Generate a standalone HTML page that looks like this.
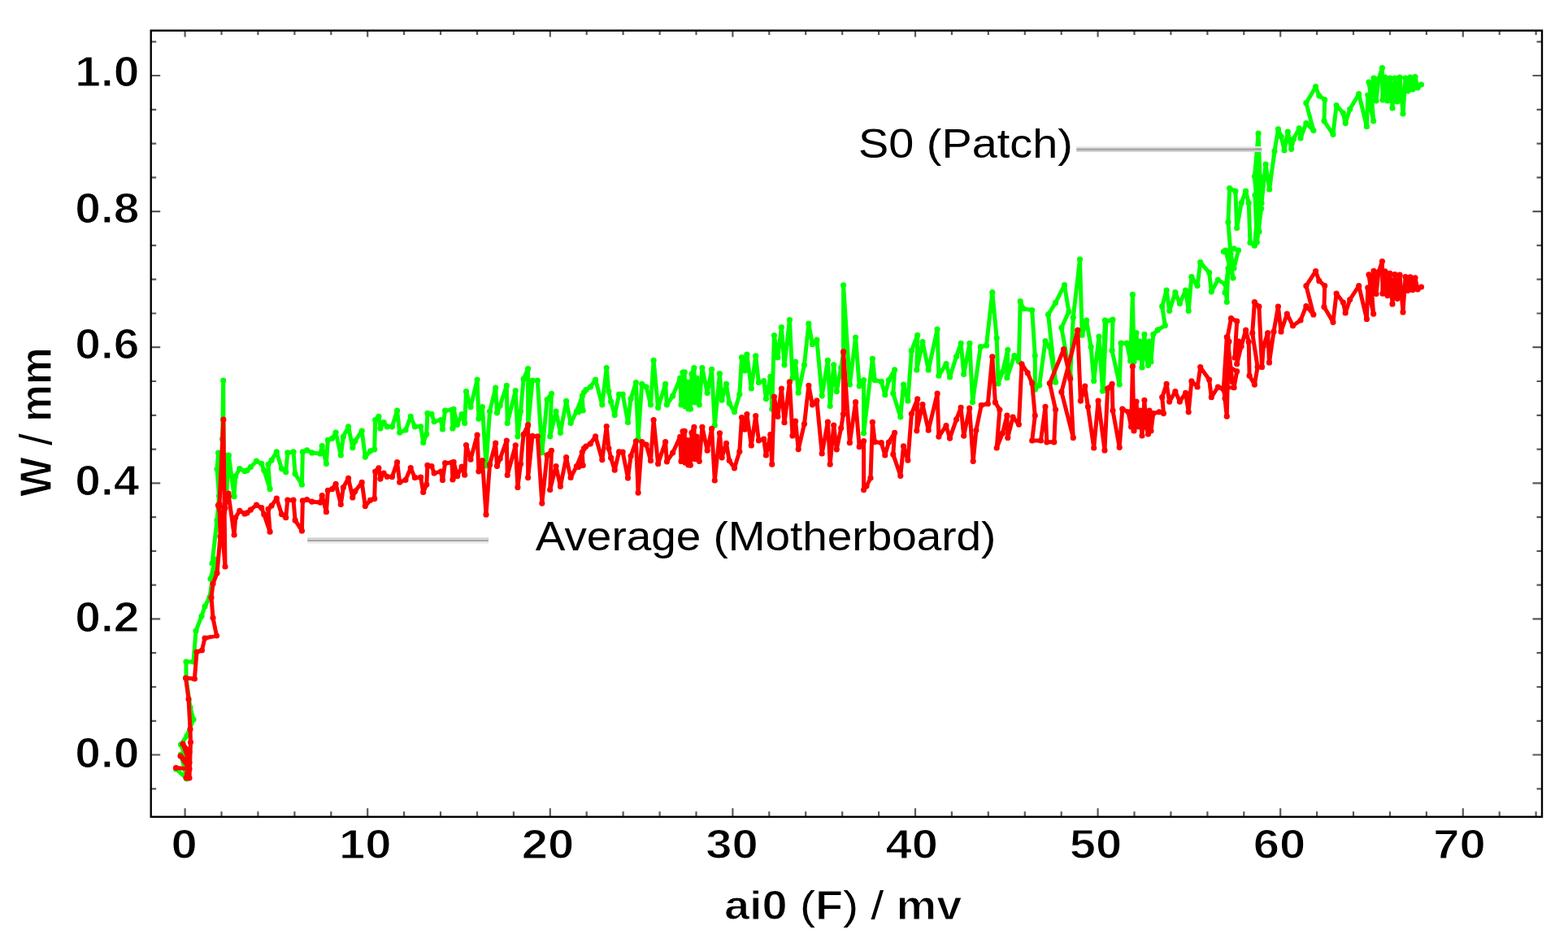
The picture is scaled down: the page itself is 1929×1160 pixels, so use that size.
<!DOCTYPE html><html><head><meta charset="utf-8"><style>html,body{margin:0;padding:0;background:#fff;}svg{display:block}</style></head><body>
<svg width="1929" height="1160" viewBox="0 0 1929 1160">
<rect width="1929" height="1160" fill="#fff"/>
<path d="M227.6,1004.8v-10.5M227.6,37.6v8M272.5,1004.8v-6.5M272.5,37.6v5.5M317.4,1004.8v-6.5M317.4,37.6v5.5M362.4,1004.8v-6.5M362.4,37.6v5.5M407.3,1004.8v-6.5M407.3,37.6v5.5M452.2,1004.8v-10.5M452.2,37.6v8M497.1,1004.8v-6.5M497.1,37.6v5.5M542.0,1004.8v-6.5M542.0,37.6v5.5M587.0,1004.8v-6.5M587.0,37.6v5.5M631.9,1004.8v-6.5M631.9,37.6v5.5M676.8,1004.8v-10.5M676.8,37.6v8M721.7,1004.8v-6.5M721.7,37.6v5.5M766.6,1004.8v-6.5M766.6,37.6v5.5M811.6,1004.8v-6.5M811.6,37.6v5.5M856.5,1004.8v-6.5M856.5,37.6v5.5M901.4,1004.8v-10.5M901.4,37.6v8M946.3,1004.8v-6.5M946.3,37.6v5.5M991.2,1004.8v-6.5M991.2,37.6v5.5M1036.2,1004.8v-6.5M1036.2,37.6v5.5M1081.1,1004.8v-6.5M1081.1,37.6v5.5M1126.0,1004.8v-10.5M1126.0,37.6v8M1170.9,1004.8v-6.5M1170.9,37.6v5.5M1215.8,1004.8v-6.5M1215.8,37.6v5.5M1260.8,1004.8v-6.5M1260.8,37.6v5.5M1305.7,1004.8v-6.5M1305.7,37.6v5.5M1350.6,1004.8v-10.5M1350.6,37.6v8M1395.5,1004.8v-6.5M1395.5,37.6v5.5M1440.4,1004.8v-6.5M1440.4,37.6v5.5M1485.4,1004.8v-6.5M1485.4,37.6v5.5M1530.3,1004.8v-6.5M1530.3,37.6v5.5M1575.2,1004.8v-10.5M1575.2,37.6v8M1620.1,1004.8v-6.5M1620.1,37.6v5.5M1665.0,1004.8v-6.5M1665.0,37.6v5.5M1710.0,1004.8v-6.5M1710.0,37.6v5.5M1754.9,1004.8v-6.5M1754.9,37.6v5.5M1799.8,1004.8v-10.5M1799.8,37.6v8M1844.7,1004.8v-6.5M1844.7,37.6v5.5M1889.6,1004.8v-6.5M1889.6,37.6v5.5M185.7,970.3h6.5M1897.0,970.3h-6.5M185.7,928.5h11.5M1897.0,928.5h-11.5M185.7,886.8h6.5M1897.0,886.8h-6.5M185.7,845.0h6.5M1897.0,845.0h-6.5M185.7,803.2h6.5M1897.0,803.2h-6.5M185.7,761.4h11.5M1897.0,761.4h-11.5M185.7,719.7h6.5M1897.0,719.7h-6.5M185.7,677.9h6.5M1897.0,677.9h-6.5M185.7,636.1h6.5M1897.0,636.1h-6.5M185.7,594.3h11.5M1897.0,594.3h-11.5M185.7,552.6h6.5M1897.0,552.6h-6.5M185.7,510.8h6.5M1897.0,510.8h-6.5M185.7,469.0h6.5M1897.0,469.0h-6.5M185.7,427.2h11.5M1897.0,427.2h-11.5M185.7,385.5h6.5M1897.0,385.5h-6.5M185.7,343.7h6.5M1897.0,343.7h-6.5M185.7,301.9h6.5M1897.0,301.9h-6.5M185.7,260.1h11.5M1897.0,260.1h-11.5M185.7,218.4h6.5M1897.0,218.4h-6.5M185.7,176.6h6.5M1897.0,176.6h-6.5M185.7,134.8h6.5M1897.0,134.8h-6.5M185.7,93.0h11.5M1897.0,93.0h-11.5M185.7,51.3h6.5M1897.0,51.3h-6.5" stroke="#5a5a5a" stroke-width="2.2" fill="none"/>
<rect x="185.7" y="37.6" width="1711.3" height="967.1999999999999" fill="none" stroke="#000" stroke-width="2.4"/>
<path d="M216.5,946.0 230.0,958.0 222.5,928.0 232.0,940.0 222.5,916.0 230.0,905.0 238.0,885.0 234.0,870.0 229.0,834.0 229.0,814.0 238.0,814.0 241.0,776.0 248.0,758.0 252.0,746.0 258.0,734.5 263.0,700.0 259.0,712.0 265.0,688.0 261.0,693.0 267.0,640.0 269.5,610.0 267.0,577.0 268.6,557.0 273.2,575.0 273.6,540.0 274.7,468.0 275.4,600.0 277.5,560.0 278.5,612.0 281.4,560.0 288.1,610.7 289.7,585.9 294.8,576.6 301.0,579.7 304.1,578.6 308.3,574.5 315.5,567.2 321.7,570.3 324.8,578.6 332.1,601.4 330.0,571.4 334.1,566.2 340.3,555.9 346.5,576.6 351.7,580.7 353.8,556.9 361.0,555.9 363.1,582.8 371.4,596.2 372.4,555.9 377.6,553.8 383.8,556.9 394.1,557.9 396.2,548.6 401.4,570.3 403.4,541.4 408.6,539.3 413.1,532.1 419.3,560.0 422.4,537.2 428.6,524.8 433.8,550.7 436.9,542.4 445.2,530.0 449.3,562.1 455.5,554.8 460.7,552.8 461.7,516.6 465.9,512.4 467.9,526.9 472.1,519.7 476.2,524.8 482.4,524.8 488.6,505.2 491.7,532.1 499.0,529.0 505.2,512.4 510.3,524.8 517.6,524.8 520.7,544.5 524.8,534.1 525.9,508.3 531.0,509.3 534.1,518.6 542.4,516.6 544.5,527.9 547.6,505.2 555.9,504.1 556.9,526.9 557.2,526.0 558.1,503.3 562.7,522.3 568.1,509.7 571.7,520.5 573.5,481.6 579.0,500.6 587.1,467.1 588.9,515.1 593.4,500.6 598.0,573.0 602.5,506.0 609.7,477.1 611.5,507.8 615.2,498.8 623.3,474.4 624.2,520.5 634.2,480.7 636.9,536.8 640.5,506.0 644.1,466.2 649.6,453.5 649.6,524.1 655.0,468.0 661.3,468.0 666.8,556.7 673.1,491.5 678.5,484.3 676.7,536.8 684.0,506.0 689.4,532.3 696.6,493.4 702.1,520.5 709.3,506.0 718.4,482.5 711.8,506.8 717.2,505.0 716.3,486.9 720.9,479.7 726.3,476.0 732.6,467.0 740.8,497.8 746.2,452.5 748.9,481.5 751.6,494.1 756.2,510.4 761.6,485.1 766.1,485.1 772.5,519.5 776.1,490.5 782.4,470.6 785.1,539.4 789.7,472.4 795.1,476.0 800.5,497.8 804.1,443.4 809.6,501.4 818.6,472.4 820.4,497.8 827.7,486.9 836.7,465.2 838.0,498.0 840.0,458.0 842.2,457.9 843.0,500.0 846.0,470.0 847.0,503.0 849.4,503.2 851.0,460.0 853.9,452.5 855.0,495.0 857.0,465.0 860.3,497.8 863.9,452.5 870.2,483.3 875.6,454.3 879.3,523.1 885.4,459.7 888.1,492.2 893.5,472.3 897.2,495.9 903.5,506.7 909.8,485.0 912.5,439.7 916.2,456.0 918.9,436.1 924.3,477.8 929.7,437.9 933.4,470.5 939.7,468.7 942.4,490.4 947.8,463.3 949.7,503.1 952.4,412.6 956.9,439.7 961.4,402.6 965.0,448.8 971.4,393.6 975.0,465.1 978.6,445.2 982.2,483.2 989.5,448.8 994.9,398.1 999.4,423.4 1004.9,418.0 1011.2,486.8 1018.4,443.4 1021.2,499.5 1025.7,448.8 1029.3,481.4 1034.7,452.4 1037.5,434.3 1037.6,350.8 1045.4,473.0 1052.6,415.1 1057.2,474.8 1062.6,467.6 1062.6,532.8 1073.4,441.3 1076.2,467.6 1084.3,469.4 1088.8,485.7 1093.4,467.6 1100.6,454.9 1098.8,483.9 1107.8,512.8 1111.5,473.0 1116.9,492.9 1121.4,431.4 1128.7,412.4 1127.8,454.9 1135.0,420.5 1142.2,454.9 1153.1,405.1 1154.9,462.2 1164.0,447.7 1168.5,464.0 1176.6,438.6 1182.1,422.3 1185.7,460.3 1192.9,422.3 1196.5,494.7 1206.3,426.7 1213.5,424.9 1220.8,359.7 1226.2,415.9 1228.0,472.0 1233.4,457.5 1239.8,430.3 1238.9,464.7 1247.9,437.6 1253.4,444.8 1255.2,370.6 1258.8,379.7 1269.7,381.5 1273.3,437.6 1273.3,479.2 1278.7,473.8 1286.0,419.5 1291.4,426.7 1298.6,470.2 1289.6,386.9 1298.6,372.4 1309.5,350.7 1314.9,383.3 1305.9,403.2 1316.7,462.9 1320.3,390.5 1328.5,319.0 1331.2,412.2 1336.6,394.1 1342.1,426.7 1345.7,468.4 1352.0,414.0 1356.5,481.0 1359.3,394.1 1357.2,480.1 1360.9,395.0 1369.0,393.2 1368.1,431.2 1377.2,472.8 1379.0,422.2 1386.2,422.2 1390.7,443.9 1393.4,362.4 1395.0,445.0 1398.0,409.5 1400.0,440.0 1402.5,420.0 1405.0,452.0 1407.9,411.3 1410.0,440.0 1412.5,449.3 1414.0,420.0 1416.0,445.0 1418.8,411.3 1424.2,405.9 1433.3,400.4 1429.7,376.9 1435.1,357.0 1438.7,382.3 1445.9,359.7 1451.4,373.3 1458.6,357.0 1462.2,382.3 1465.9,340.7 1473.1,351.5 1476.7,322.6 1487.6,335.3 1490.3,358.8 1498.4,344.3 1507.5,349.7 1509.3,371.5 1511.0,330.0 1507.0,360.0 1513.0,318.0 1517.0,342.0 1507.5,308.1 1505.4,309.5 1518.1,305.8 1523.5,308.0 1518.0,330.0 1514.0,312.0 1510.9,273.3 1512.7,231.6 1519.9,235.2 1521.7,280.5 1527.1,249.7 1532.6,235.2 1536.2,249.7 1538.0,298.6 1543.4,302.2 1547.1,262.4 1543.4,217.1 1548.1,164.2 1549.9,216.7 1551.7,256.5 1546.3,298.1 1544.0,240.0 1549.0,285.0 1547.0,210.0 1552.0,250.0 1557.1,202.2 1561.7,233.0 1568.0,185.9 1572.5,158.8 1576.2,168.0 1580.0,185.0 1584.3,162.0 1588.6,183.3 1591.4,170.9 1598.3,157.8 1600.0,170.0 1606.9,151.6 1615.9,160.5 1606.9,126.7 1618.6,106.7 1622.8,117.8 1629.7,122.6 1629.0,148.8 1640.0,165.3 1644.1,129.5 1652.4,139.1 1655.2,151.6 1660.7,134.3 1671.7,115.7 1681.4,155.7 1682.8,117.1 1689.7,148.8 1686.2,104.0 1684.0,101.0 1687.0,123.0 1690.0,96.0 1693.0,124.0 1696.0,97.0 1700.4,83.5 1701.0,123.0 1704.0,95.0 1707.0,124.0 1710.0,96.0 1713.0,133.0 1716.0,96.0 1719.0,125.0 1722.0,95.0 1726.0,140.0 1729.0,96.0 1732.0,112.0 1735.0,95.0 1738.0,110.0 1741.0,94.5 1744.0,108.0 1748.5,104.0" stroke="#00ff00" stroke-width="5.0" fill="none" stroke-linejoin="round" stroke-linecap="round"/>
<path d="M216.5,946.0h0M230.0,958.0h0M222.5,928.0h0M232.0,940.0h0M222.5,916.0h0M230.0,905.0h0M238.0,885.0h0M234.0,870.0h0M229.0,834.0h0M229.0,814.0h0M238.0,814.0h0M241.0,776.0h0M248.0,758.0h0M252.0,746.0h0M258.0,734.5h0M263.0,700.0h0M259.0,712.0h0M265.0,688.0h0M261.0,693.0h0M267.0,640.0h0M269.5,610.0h0M267.0,577.0h0M268.6,557.0h0M273.2,575.0h0M273.6,540.0h0M274.7,468.0h0M275.4,600.0h0M277.5,560.0h0M278.5,612.0h0M281.4,560.0h0M288.1,610.7h0M289.7,585.9h0M294.8,576.6h0M301.0,579.7h0M304.1,578.6h0M308.3,574.5h0M315.5,567.2h0M321.7,570.3h0M324.8,578.6h0M332.1,601.4h0M330.0,571.4h0M334.1,566.2h0M340.3,555.9h0M346.5,576.6h0M351.7,580.7h0M353.8,556.9h0M361.0,555.9h0M363.1,582.8h0M371.4,596.2h0M372.4,555.9h0M377.6,553.8h0M383.8,556.9h0M394.1,557.9h0M396.2,548.6h0M401.4,570.3h0M403.4,541.4h0M408.6,539.3h0M413.1,532.1h0M419.3,560.0h0M422.4,537.2h0M428.6,524.8h0M433.8,550.7h0M436.9,542.4h0M445.2,530.0h0M449.3,562.1h0M455.5,554.8h0M460.7,552.8h0M461.7,516.6h0M465.9,512.4h0M467.9,526.9h0M472.1,519.7h0M476.2,524.8h0M482.4,524.8h0M488.6,505.2h0M491.7,532.1h0M499.0,529.0h0M505.2,512.4h0M510.3,524.8h0M517.6,524.8h0M520.7,544.5h0M524.8,534.1h0M525.9,508.3h0M531.0,509.3h0M534.1,518.6h0M542.4,516.6h0M544.5,527.9h0M547.6,505.2h0M555.9,504.1h0M556.9,526.9h0M557.2,526.0h0M558.1,503.3h0M562.7,522.3h0M568.1,509.7h0M571.7,520.5h0M573.5,481.6h0M579.0,500.6h0M587.1,467.1h0M588.9,515.1h0M593.4,500.6h0M598.0,573.0h0M602.5,506.0h0M609.7,477.1h0M611.5,507.8h0M615.2,498.8h0M623.3,474.4h0M624.2,520.5h0M634.2,480.7h0M636.9,536.8h0M640.5,506.0h0M644.1,466.2h0M649.6,453.5h0M649.6,524.1h0M655.0,468.0h0M661.3,468.0h0M666.8,556.7h0M673.1,491.5h0M678.5,484.3h0M676.7,536.8h0M684.0,506.0h0M689.4,532.3h0M696.6,493.4h0M702.1,520.5h0M709.3,506.0h0M718.4,482.5h0M711.8,506.8h0M717.2,505.0h0M716.3,486.9h0M720.9,479.7h0M726.3,476.0h0M732.6,467.0h0M740.8,497.8h0M746.2,452.5h0M748.9,481.5h0M751.6,494.1h0M756.2,510.4h0M761.6,485.1h0M766.1,485.1h0M772.5,519.5h0M776.1,490.5h0M782.4,470.6h0M785.1,539.4h0M789.7,472.4h0M795.1,476.0h0M800.5,497.8h0M804.1,443.4h0M809.6,501.4h0M818.6,472.4h0M820.4,497.8h0M827.7,486.9h0M836.7,465.2h0M838.0,498.0h0M840.0,458.0h0M842.2,457.9h0M843.0,500.0h0M846.0,470.0h0M847.0,503.0h0M849.4,503.2h0M851.0,460.0h0M853.9,452.5h0M855.0,495.0h0M857.0,465.0h0M860.3,497.8h0M863.9,452.5h0M870.2,483.3h0M875.6,454.3h0M879.3,523.1h0M885.4,459.7h0M888.1,492.2h0M893.5,472.3h0M897.2,495.9h0M903.5,506.7h0M909.8,485.0h0M912.5,439.7h0M916.2,456.0h0M918.9,436.1h0M924.3,477.8h0M929.7,437.9h0M933.4,470.5h0M939.7,468.7h0M942.4,490.4h0M947.8,463.3h0M949.7,503.1h0M952.4,412.6h0M956.9,439.7h0M961.4,402.6h0M965.0,448.8h0M971.4,393.6h0M975.0,465.1h0M978.6,445.2h0M982.2,483.2h0M989.5,448.8h0M994.9,398.1h0M999.4,423.4h0M1004.9,418.0h0M1011.2,486.8h0M1018.4,443.4h0M1021.2,499.5h0M1025.7,448.8h0M1029.3,481.4h0M1034.7,452.4h0M1037.5,434.3h0M1037.6,350.8h0M1045.4,473.0h0M1052.6,415.1h0M1057.2,474.8h0M1062.6,467.6h0M1062.6,532.8h0M1073.4,441.3h0M1076.2,467.6h0M1084.3,469.4h0M1088.8,485.7h0M1093.4,467.6h0M1100.6,454.9h0M1098.8,483.9h0M1107.8,512.8h0M1111.5,473.0h0M1116.9,492.9h0M1121.4,431.4h0M1128.7,412.4h0M1127.8,454.9h0M1135.0,420.5h0M1142.2,454.9h0M1153.1,405.1h0M1154.9,462.2h0M1164.0,447.7h0M1168.5,464.0h0M1176.6,438.6h0M1182.1,422.3h0M1185.7,460.3h0M1192.9,422.3h0M1196.5,494.7h0M1206.3,426.7h0M1213.5,424.9h0M1220.8,359.7h0M1226.2,415.9h0M1228.0,472.0h0M1233.4,457.5h0M1239.8,430.3h0M1238.9,464.7h0M1247.9,437.6h0M1253.4,444.8h0M1255.2,370.6h0M1258.8,379.7h0M1269.7,381.5h0M1273.3,437.6h0M1273.3,479.2h0M1278.7,473.8h0M1286.0,419.5h0M1291.4,426.7h0M1298.6,470.2h0M1289.6,386.9h0M1298.6,372.4h0M1309.5,350.7h0M1314.9,383.3h0M1305.9,403.2h0M1316.7,462.9h0M1320.3,390.5h0M1328.5,319.0h0M1331.2,412.2h0M1336.6,394.1h0M1342.1,426.7h0M1345.7,468.4h0M1352.0,414.0h0M1356.5,481.0h0M1359.3,394.1h0M1357.2,480.1h0M1360.9,395.0h0M1369.0,393.2h0M1368.1,431.2h0M1377.2,472.8h0M1379.0,422.2h0M1386.2,422.2h0M1390.7,443.9h0M1393.4,362.4h0M1395.0,445.0h0M1398.0,409.5h0M1400.0,440.0h0M1402.5,420.0h0M1405.0,452.0h0M1407.9,411.3h0M1410.0,440.0h0M1412.5,449.3h0M1414.0,420.0h0M1416.0,445.0h0M1418.8,411.3h0M1424.2,405.9h0M1433.3,400.4h0M1429.7,376.9h0M1435.1,357.0h0M1438.7,382.3h0M1445.9,359.7h0M1451.4,373.3h0M1458.6,357.0h0M1462.2,382.3h0M1465.9,340.7h0M1473.1,351.5h0M1476.7,322.6h0M1487.6,335.3h0M1490.3,358.8h0M1498.4,344.3h0M1507.5,349.7h0M1509.3,371.5h0M1511.0,330.0h0M1507.0,360.0h0M1513.0,318.0h0M1517.0,342.0h0M1507.5,308.1h0M1505.4,309.5h0M1518.1,305.8h0M1523.5,308.0h0M1518.0,330.0h0M1514.0,312.0h0M1510.9,273.3h0M1512.7,231.6h0M1519.9,235.2h0M1521.7,280.5h0M1527.1,249.7h0M1532.6,235.2h0M1536.2,249.7h0M1538.0,298.6h0M1543.4,302.2h0M1547.1,262.4h0M1543.4,217.1h0M1548.1,164.2h0M1549.9,216.7h0M1551.7,256.5h0M1546.3,298.1h0M1544.0,240.0h0M1549.0,285.0h0M1547.0,210.0h0M1552.0,250.0h0M1557.1,202.2h0M1561.7,233.0h0M1568.0,185.9h0M1572.5,158.8h0M1576.2,168.0h0M1580.0,185.0h0M1584.3,162.0h0M1588.6,183.3h0M1591.4,170.9h0M1598.3,157.8h0M1600.0,170.0h0M1606.9,151.6h0M1615.9,160.5h0M1606.9,126.7h0M1618.6,106.7h0M1622.8,117.8h0M1629.7,122.6h0M1629.0,148.8h0M1640.0,165.3h0M1644.1,129.5h0M1652.4,139.1h0M1655.2,151.6h0M1660.7,134.3h0M1671.7,115.7h0M1681.4,155.7h0M1682.8,117.1h0M1689.7,148.8h0M1686.2,104.0h0M1684.0,101.0h0M1687.0,123.0h0M1690.0,96.0h0M1693.0,124.0h0M1696.0,97.0h0M1700.4,83.5h0M1701.0,123.0h0M1704.0,95.0h0M1707.0,124.0h0M1710.0,96.0h0M1713.0,133.0h0M1716.0,96.0h0M1719.0,125.0h0M1722.0,95.0h0M1726.0,140.0h0M1729.0,96.0h0M1732.0,112.0h0M1735.0,95.0h0M1738.0,110.0h0M1741.0,94.5h0M1744.0,108.0h0M1748.5,104.0h0" stroke="#00ff00" stroke-width="7.2" fill="none" stroke-linecap="round"/>
<path d="M216.5,944.5 233.0,946.0 222.0,930.0 233.0,938.0 225.0,915.0 233.0,925.0 229.0,957.0 233.0,957.0 234.5,913.0 234.0,897.0 232.0,860.0 228.5,834.0 239.4,835.0 242.0,802.0 248.4,800.0 252.0,785.0 266.5,782.0 262.0,760.0 260.0,735.0 262.0,718.0 267.0,705.0 271.0,660.0 270.0,620.0 274.8,516.0 277.0,697.0 274.0,660.0 277.0,625.0 268.4,621.6 272.0,640.0 281.0,607.0 281.4,610.5 288.1,658.0 289.7,636.8 294.8,628.4 301.0,631.9 304.1,630.8 308.3,627.2 315.5,621.2 321.7,624.7 324.8,632.7 332.1,654.2 330.0,626.3 334.1,622.1 340.3,613.1 346.5,632.6 351.7,636.7 353.8,615.0 361.0,615.2 363.1,639.9 371.4,652.9 372.4,615.9 377.6,614.5 383.8,617.2 394.1,618.1 396.2,609.7 401.4,629.7 403.4,603.3 408.6,601.7 413.1,595.3 419.3,620.5 422.4,599.5 428.6,588.3 433.8,611.9 436.9,604.3 445.2,593.4 449.3,622.6 455.5,615.3 460.7,613.4 461.7,580.0 465.9,575.8 467.9,589.1 472.1,582.2 476.2,586.3 482.4,586.6 488.6,568.6 491.7,593.2 499.0,590.3 505.2,575.6 510.3,587.4 517.6,587.2 520.7,605.5 524.8,596.1 525.9,572.4 531.0,573.5 534.1,581.9 542.4,580.1 544.5,590.4 547.6,569.7 555.9,569.0 556.9,590.0 557.2,589.2 558.1,568.3 562.7,585.6 568.1,574.1 571.7,584.2 573.5,547.6 579.0,565.2 587.1,535.2 588.9,579.8 593.4,566.5 598.0,632.9 602.5,571.7 609.7,545.0 611.5,573.3 615.2,564.2 623.3,542.1 624.2,584.5 634.2,547.9 636.9,599.4 640.5,570.8 644.1,534.3 649.6,522.7 649.6,587.6 655.0,536.4 661.3,536.8 666.8,619.1 673.1,559.9 678.5,554.3 676.7,602.5 684.0,573.6 689.4,598.3 696.6,562.7 702.1,587.5 709.3,573.6 718.4,551.6 711.8,574.3 717.2,572.5 716.3,556.1 720.9,549.1 726.3,545.8 732.6,536.8 740.8,565.6 746.2,524.6 748.9,551.6 751.6,563.2 756.2,578.2 761.6,555.9 766.1,556.2 772.5,587.9 776.1,561.0 782.4,542.8 785.1,606.1 789.7,543.7 795.1,547.2 800.5,566.7 804.1,516.6 809.6,570.4 818.6,543.7 820.4,567.8 827.7,556.8 836.7,537.3 838.0,567.4 840.0,530.5 842.2,530.4 843.0,569.1 846.0,541.7 847.0,572.0 849.4,572.1 851.0,532.4 853.9,525.4 855.0,564.7 857.0,537.1 860.3,567.3 863.9,525.3 870.2,554.2 875.6,527.4 879.3,591.0 885.4,532.9 888.1,562.8 893.5,545.3 897.2,566.5 903.5,575.8 909.8,555.5 912.5,513.5 916.2,528.2 918.9,509.5 924.3,547.9 929.7,511.7 933.4,541.8 939.7,540.2 942.4,560.0 947.8,534.7 949.7,571.2 952.4,488.0 956.9,512.3 961.4,478.0 965.0,519.7 971.4,469.9 975.0,535.9 978.6,518.2 982.2,552.6 989.5,521.6 994.9,474.3 999.4,497.8 1004.9,492.9 1011.2,558.0 1018.4,519.0 1021.2,571.2 1025.7,523.1 1029.3,552.8 1034.7,526.6 1037.5,509.4 1037.6,432.6 1045.4,544.7 1052.6,494.7 1057.2,549.7 1062.6,542.6 1062.6,602.6 1066.0,598.0 1071.0,588.0 1073.4,519.3 1076.2,543.6 1084.3,544.7 1088.8,560.0 1093.4,544.0 1100.6,532.4 1098.8,558.9 1107.8,585.3 1111.5,548.8 1116.9,566.2 1121.4,509.1 1128.7,490.8 1127.8,529.8 1135.0,497.5 1142.2,529.2 1153.1,484.2 1154.9,537.1 1164.0,523.7 1168.5,539.1 1176.6,515.9 1182.1,501.3 1185.7,536.1 1192.7,502.2 1197.2,567.3 1200.9,529.3 1207.2,498.5 1215.3,496.7 1220.8,438.8 1224.4,494.9 1229.8,504.0 1226.2,551.0 1233.4,532.9 1238.9,511.2 1239.8,538.4 1246.1,513.0 1253.4,522.1 1257.0,447.8 1264.2,458.7 1269.7,471.4 1273.3,511.2 1269.7,542.0 1280.5,542.0 1286.0,500.3 1287.8,543.8 1296.8,543.8 1298.6,504.0 1291.4,471.4 1308.6,429.7 1316.7,465.9 1320.3,538.4 1305.9,482.2 1325.8,406.2 1329.4,493.1 1334.8,475.0 1338.4,500.3 1345.7,551.0 1351.1,493.1 1359.0,553.9 1362.7,477.8 1368.1,472.4 1369.0,505.0 1377.2,550.3 1380.8,503.2 1388.0,506.8 1391.6,524.9 1393.4,450.7 1395.0,530.0 1398.0,494.0 1400.0,525.0 1402.5,505.0 1405.0,536.0 1407.9,492.3 1410.0,525.0 1412.5,534.0 1414.0,505.0 1416.0,530.0 1418.8,508.6 1426.0,506.8 1431.5,508.6 1429.7,488.7 1435.1,472.4 1438.7,494.1 1445.9,481.5 1451.4,494.1 1458.6,483.3 1462.2,506.8 1465.9,468.8 1473.1,476.0 1476.7,451.6 1487.6,467.0 1490.3,488.7 1498.4,476.0 1505.7,479.7 1509.3,512.2 1511.0,440.0 1507.0,490.0 1512.0,420.0 1509.3,414.5 1505.4,476.7 1518.1,476.7 1521.7,456.8 1509.0,449.5 1516.0,470.0 1510.0,415.2 1514.5,391.6 1521.7,395.2 1519.0,440.0 1524.0,420.0 1521.7,447.7 1527.1,426.0 1532.6,406.1 1536.2,420.6 1537.1,462.2 1543.4,473.1 1547.1,451.4 1540.7,409.7 1543.4,371.7 1548.9,377.1 1552.5,451.4 1554.3,426.0 1559.7,409.7 1561.5,445.9 1567.0,407.9 1572.4,377.1 1576.0,407.9 1583.3,386.2 1590.5,400.7 1600.0,394.0 1606.9,376.6 1615.9,386.9 1606.9,351.7 1618.6,333.5 1622.8,345.4 1629.7,351.5 1629.0,377.6 1640.0,396.3 1644.1,361.1 1652.4,372.0 1655.2,385.0 1660.7,368.5 1671.7,351.7 1681.4,392.4 1682.8,353.9 1689.7,386.1 1686.2,341.0 1684.0,337.9 1687.0,360.1 1690.0,333.3 1693.0,361.5 1696.0,334.7 1700.4,321.6 1701.0,361.2 1704.0,333.9 1707.0,363.6 1710.0,336.3 1713.0,373.9 1716.0,337.6 1719.0,367.3 1722.0,338.0 1726.0,383.9 1729.0,340.6 1732.0,357.3 1735.0,340.9 1738.0,356.6 1741.0,341.8 1744.0,356.0 1748.5,353.0" stroke="#ff0000" stroke-width="5.0" fill="none" stroke-linejoin="round" stroke-linecap="round"/>
<path d="M216.5,944.5h0M233.0,946.0h0M222.0,930.0h0M233.0,938.0h0M225.0,915.0h0M233.0,925.0h0M229.0,957.0h0M233.0,957.0h0M234.5,913.0h0M234.0,897.0h0M232.0,860.0h0M228.5,834.0h0M239.4,835.0h0M242.0,802.0h0M248.4,800.0h0M252.0,785.0h0M266.5,782.0h0M262.0,760.0h0M260.0,735.0h0M262.0,718.0h0M267.0,705.0h0M271.0,660.0h0M270.0,620.0h0M274.8,516.0h0M277.0,697.0h0M274.0,660.0h0M277.0,625.0h0M268.4,621.6h0M272.0,640.0h0M281.0,607.0h0M281.4,610.5h0M288.1,658.0h0M289.7,636.8h0M294.8,628.4h0M301.0,631.9h0M304.1,630.8h0M308.3,627.2h0M315.5,621.2h0M321.7,624.7h0M324.8,632.7h0M332.1,654.2h0M330.0,626.3h0M334.1,622.1h0M340.3,613.1h0M346.5,632.6h0M351.7,636.7h0M353.8,615.0h0M361.0,615.2h0M363.1,639.9h0M371.4,652.9h0M372.4,615.9h0M377.6,614.5h0M383.8,617.2h0M394.1,618.1h0M396.2,609.7h0M401.4,629.7h0M403.4,603.3h0M408.6,601.7h0M413.1,595.3h0M419.3,620.5h0M422.4,599.5h0M428.6,588.3h0M433.8,611.9h0M436.9,604.3h0M445.2,593.4h0M449.3,622.6h0M455.5,615.3h0M460.7,613.4h0M461.7,580.0h0M465.9,575.8h0M467.9,589.1h0M472.1,582.2h0M476.2,586.3h0M482.4,586.6h0M488.6,568.6h0M491.7,593.2h0M499.0,590.3h0M505.2,575.6h0M510.3,587.4h0M517.6,587.2h0M520.7,605.5h0M524.8,596.1h0M525.9,572.4h0M531.0,573.5h0M534.1,581.9h0M542.4,580.1h0M544.5,590.4h0M547.6,569.7h0M555.9,569.0h0M556.9,590.0h0M557.2,589.2h0M558.1,568.3h0M562.7,585.6h0M568.1,574.1h0M571.7,584.2h0M573.5,547.6h0M579.0,565.2h0M587.1,535.2h0M588.9,579.8h0M593.4,566.5h0M598.0,632.9h0M602.5,571.7h0M609.7,545.0h0M611.5,573.3h0M615.2,564.2h0M623.3,542.1h0M624.2,584.5h0M634.2,547.9h0M636.9,599.4h0M640.5,570.8h0M644.1,534.3h0M649.6,522.7h0M649.6,587.6h0M655.0,536.4h0M661.3,536.8h0M666.8,619.1h0M673.1,559.9h0M678.5,554.3h0M676.7,602.5h0M684.0,573.6h0M689.4,598.3h0M696.6,562.7h0M702.1,587.5h0M709.3,573.6h0M718.4,551.6h0M711.8,574.3h0M717.2,572.5h0M716.3,556.1h0M720.9,549.1h0M726.3,545.8h0M732.6,536.8h0M740.8,565.6h0M746.2,524.6h0M748.9,551.6h0M751.6,563.2h0M756.2,578.2h0M761.6,555.9h0M766.1,556.2h0M772.5,587.9h0M776.1,561.0h0M782.4,542.8h0M785.1,606.1h0M789.7,543.7h0M795.1,547.2h0M800.5,566.7h0M804.1,516.6h0M809.6,570.4h0M818.6,543.7h0M820.4,567.8h0M827.7,556.8h0M836.7,537.3h0M838.0,567.4h0M840.0,530.5h0M842.2,530.4h0M843.0,569.1h0M846.0,541.7h0M847.0,572.0h0M849.4,572.1h0M851.0,532.4h0M853.9,525.4h0M855.0,564.7h0M857.0,537.1h0M860.3,567.3h0M863.9,525.3h0M870.2,554.2h0M875.6,527.4h0M879.3,591.0h0M885.4,532.9h0M888.1,562.8h0M893.5,545.3h0M897.2,566.5h0M903.5,575.8h0M909.8,555.5h0M912.5,513.5h0M916.2,528.2h0M918.9,509.5h0M924.3,547.9h0M929.7,511.7h0M933.4,541.8h0M939.7,540.2h0M942.4,560.0h0M947.8,534.7h0M949.7,571.2h0M952.4,488.0h0M956.9,512.3h0M961.4,478.0h0M965.0,519.7h0M971.4,469.9h0M975.0,535.9h0M978.6,518.2h0M982.2,552.6h0M989.5,521.6h0M994.9,474.3h0M999.4,497.8h0M1004.9,492.9h0M1011.2,558.0h0M1018.4,519.0h0M1021.2,571.2h0M1025.7,523.1h0M1029.3,552.8h0M1034.7,526.6h0M1037.5,509.4h0M1037.6,432.6h0M1045.4,544.7h0M1052.6,494.7h0M1057.2,549.7h0M1062.6,542.6h0M1062.6,602.6h0M1066.0,598.0h0M1071.0,588.0h0M1073.4,519.3h0M1076.2,543.6h0M1084.3,544.7h0M1088.8,560.0h0M1093.4,544.0h0M1100.6,532.4h0M1098.8,558.9h0M1107.8,585.3h0M1111.5,548.8h0M1116.9,566.2h0M1121.4,509.1h0M1128.7,490.8h0M1127.8,529.8h0M1135.0,497.5h0M1142.2,529.2h0M1153.1,484.2h0M1154.9,537.1h0M1164.0,523.7h0M1168.5,539.1h0M1176.6,515.9h0M1182.1,501.3h0M1185.7,536.1h0M1192.7,502.2h0M1197.2,567.3h0M1200.9,529.3h0M1207.2,498.5h0M1215.3,496.7h0M1220.8,438.8h0M1224.4,494.9h0M1229.8,504.0h0M1226.2,551.0h0M1233.4,532.9h0M1238.9,511.2h0M1239.8,538.4h0M1246.1,513.0h0M1253.4,522.1h0M1257.0,447.8h0M1264.2,458.7h0M1269.7,471.4h0M1273.3,511.2h0M1269.7,542.0h0M1280.5,542.0h0M1286.0,500.3h0M1287.8,543.8h0M1296.8,543.8h0M1298.6,504.0h0M1291.4,471.4h0M1308.6,429.7h0M1316.7,465.9h0M1320.3,538.4h0M1305.9,482.2h0M1325.8,406.2h0M1329.4,493.1h0M1334.8,475.0h0M1338.4,500.3h0M1345.7,551.0h0M1351.1,493.1h0M1359.0,553.9h0M1362.7,477.8h0M1368.1,472.4h0M1369.0,505.0h0M1377.2,550.3h0M1380.8,503.2h0M1388.0,506.8h0M1391.6,524.9h0M1393.4,450.7h0M1395.0,530.0h0M1398.0,494.0h0M1400.0,525.0h0M1402.5,505.0h0M1405.0,536.0h0M1407.9,492.3h0M1410.0,525.0h0M1412.5,534.0h0M1414.0,505.0h0M1416.0,530.0h0M1418.8,508.6h0M1426.0,506.8h0M1431.5,508.6h0M1429.7,488.7h0M1435.1,472.4h0M1438.7,494.1h0M1445.9,481.5h0M1451.4,494.1h0M1458.6,483.3h0M1462.2,506.8h0M1465.9,468.8h0M1473.1,476.0h0M1476.7,451.6h0M1487.6,467.0h0M1490.3,488.7h0M1498.4,476.0h0M1505.7,479.7h0M1509.3,512.2h0M1511.0,440.0h0M1507.0,490.0h0M1512.0,420.0h0M1509.3,414.5h0M1505.4,476.7h0M1518.1,476.7h0M1521.7,456.8h0M1509.0,449.5h0M1516.0,470.0h0M1510.0,415.2h0M1514.5,391.6h0M1521.7,395.2h0M1519.0,440.0h0M1524.0,420.0h0M1521.7,447.7h0M1527.1,426.0h0M1532.6,406.1h0M1536.2,420.6h0M1537.1,462.2h0M1543.4,473.1h0M1547.1,451.4h0M1540.7,409.7h0M1543.4,371.7h0M1548.9,377.1h0M1552.5,451.4h0M1554.3,426.0h0M1559.7,409.7h0M1561.5,445.9h0M1567.0,407.9h0M1572.4,377.1h0M1576.0,407.9h0M1583.3,386.2h0M1590.5,400.7h0M1600.0,394.0h0M1606.9,376.6h0M1615.9,386.9h0M1606.9,351.7h0M1618.6,333.5h0M1622.8,345.4h0M1629.7,351.5h0M1629.0,377.6h0M1640.0,396.3h0M1644.1,361.1h0M1652.4,372.0h0M1655.2,385.0h0M1660.7,368.5h0M1671.7,351.7h0M1681.4,392.4h0M1682.8,353.9h0M1689.7,386.1h0M1686.2,341.0h0M1684.0,337.9h0M1687.0,360.1h0M1690.0,333.3h0M1693.0,361.5h0M1696.0,334.7h0M1700.4,321.6h0M1701.0,361.2h0M1704.0,333.9h0M1707.0,363.6h0M1710.0,336.3h0M1713.0,373.9h0M1716.0,337.6h0M1719.0,367.3h0M1722.0,338.0h0M1726.0,383.9h0M1729.0,340.6h0M1732.0,357.3h0M1735.0,340.9h0M1738.0,356.6h0M1741.0,341.8h0M1744.0,356.0h0M1748.5,353.0h0" stroke="#ff0000" stroke-width="7.2" fill="none" stroke-linecap="round"/>

<path d="M1324.3,181.1H1552.3" stroke="#e8e8e8" stroke-width="2" fill="none"/>
<path d="M1324.3,186H1552.3" stroke="#d2d2d2" stroke-width="2" fill="none"/>
<path d="M1324.3,183.6H1552.3" stroke="#a8a8a8" stroke-width="2.7" fill="none"/>
<path d="M378.2,662.4H601" stroke="#d3d3d3" stroke-width="2.4" fill="none"/>
<path d="M378.2,667.2H601" stroke="#e8e8e8" stroke-width="2.4" fill="none"/>
<path d="M378.2,664.8H601" stroke="#a6a6a6" stroke-width="2.3" fill="none"/>
<text transform="translate(226.7,1056.3) scale(1.16,1)" font-family="'Liberation Sans', Arial, sans-serif" font-weight="bold" stroke="#fff" stroke-width="1.1" font-size="50" text-anchor="middle">0</text>
<text transform="translate(449.3,1056.3) scale(1.16,1)" font-family="'Liberation Sans', Arial, sans-serif" font-weight="bold" stroke="#fff" stroke-width="1.1" font-size="50" text-anchor="middle">10</text>
<text transform="translate(674.0,1056.3) scale(1.16,1)" font-family="'Liberation Sans', Arial, sans-serif" font-weight="bold" stroke="#fff" stroke-width="1.1" font-size="50" text-anchor="middle">20</text>
<text transform="translate(900.4000000000001,1056.3) scale(1.16,1)" font-family="'Liberation Sans', Arial, sans-serif" font-weight="bold" stroke="#fff" stroke-width="1.1" font-size="50" text-anchor="middle">30</text>
<text transform="translate(1121.7,1056.3) scale(1.16,1)" font-family="'Liberation Sans', Arial, sans-serif" font-weight="bold" stroke="#fff" stroke-width="1.1" font-size="50" text-anchor="middle">40</text>
<text transform="translate(1348.1000000000001,1056.3) scale(1.16,1)" font-family="'Liberation Sans', Arial, sans-serif" font-weight="bold" stroke="#fff" stroke-width="1.1" font-size="50" text-anchor="middle">50</text>
<text transform="translate(1573.9,1056.3) scale(1.16,1)" font-family="'Liberation Sans', Arial, sans-serif" font-weight="bold" stroke="#fff" stroke-width="1.1" font-size="50" text-anchor="middle">60</text>
<text transform="translate(1795.6000000000001,1056.3) scale(1.16,1)" font-family="'Liberation Sans', Arial, sans-serif" font-weight="bold" stroke="#fff" stroke-width="1.1" font-size="50" text-anchor="middle">70</text>
<text transform="translate(171.4,944.1999999999999) scale(1.105,1)" font-family="'Liberation Sans', Arial, sans-serif" font-weight="bold" stroke="#fff" stroke-width="1.1" font-size="51.5" text-anchor="end">0.0</text>
<text transform="translate(171.4,776.56) scale(1.105,1)" font-family="'Liberation Sans', Arial, sans-serif" font-weight="bold" stroke="#fff" stroke-width="1.1" font-size="51.5" text-anchor="end">0.2</text>
<text transform="translate(171.4,608.92) scale(1.105,1)" font-family="'Liberation Sans', Arial, sans-serif" font-weight="bold" stroke="#fff" stroke-width="1.1" font-size="51.5" text-anchor="end">0.4</text>
<text transform="translate(171.4,441.28000000000003) scale(1.105,1)" font-family="'Liberation Sans', Arial, sans-serif" font-weight="bold" stroke="#fff" stroke-width="1.1" font-size="51.5" text-anchor="end">0.6</text>
<text transform="translate(171.4,273.64000000000004) scale(1.105,1)" font-family="'Liberation Sans', Arial, sans-serif" font-weight="bold" stroke="#fff" stroke-width="1.1" font-size="51.5" text-anchor="end">0.8</text>
<text transform="translate(171.4,106.00000000000004) scale(1.105,1)" font-family="'Liberation Sans', Arial, sans-serif" font-weight="bold" stroke="#fff" stroke-width="1.1" font-size="51.5" text-anchor="end">1.0</text>
<text transform="translate(890.9,1130.5) scale(1.12,1)" font-family="'Liberation Sans', Arial, sans-serif" font-weight="bold" stroke="#fff" stroke-width="1.1" font-size="50" text-anchor="start">ai0 <tspan font-weight="normal" stroke="none">(</tspan>F<tspan font-weight="normal" stroke="none">)</tspan> <tspan font-weight="normal" stroke="none">/</tspan> mv</text>
<text transform="translate(62.8,611) rotate(-90) scale(1.034,1.1)" font-family="'Liberation Sans', Arial, sans-serif" font-weight="bold" stroke="#fff" stroke-width="1.1" font-size="50" text-anchor="start">W <tspan font-weight="normal" stroke="none">/</tspan> mm</text>
<text transform="translate(1056,193.75) scale(1.117,1)" font-family="'Liberation Sans', Arial, sans-serif" font-size="50" text-anchor="start">S0 (Patch)</text>
<text transform="translate(658.8,677.4) scale(1.098,1)" font-family="'Liberation Sans', Arial, sans-serif" font-size="50" text-anchor="start">Average (Motherboard)</text>
</svg></body></html>
